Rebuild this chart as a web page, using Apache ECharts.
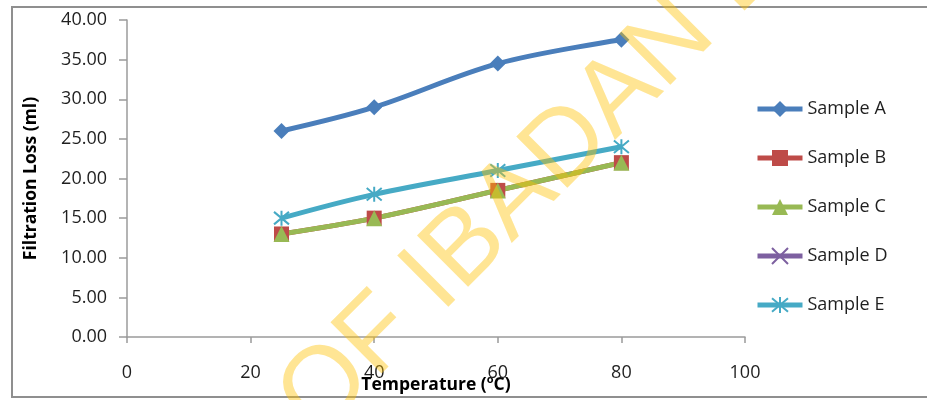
<!DOCTYPE html>
<html>
<head>
<meta charset="utf-8">
<script src="https://cdn.jsdelivr.net/npm/echarts@6/dist/echarts.min.js"></script>
<style>
html,body{margin:0;padding:0;background:#fff;}
#chart{width:927px;height:400px;}
</style>
</head>
<body>
<div id="chart"></div>
<script>
// ---- data ----
const temperatures = [25, 40, 60, 80];
const sampleNames = ['Sample A', 'Sample B', 'Sample C', 'Sample D', 'Sample E'];
const sampleA = [26.0, 29.0, 34.5, 37.5];
const sampleB = [13.0, 15.0, 18.5, 22.0];
const sampleC = [13.0, 15.0, 18.5, 22.0];
const sampleD = [];
const sampleE = [15.0, 18.0, 21.0, 24.0];
const xTicks = [0, 20, 40, 60, 80, 100];
const yTicks = [0, 5, 10, 15, 20, 25, 30, 35, 40];
const xTitle = 'Temperature (';
const yTitle = 'Filtration Loss (ml)';
const watermarkBefore = 'UNIVERSITY OF ';
const watermarkAfter = 'IBADAN LIBRARY';

// ---- styles ----
const colors = ['#4A7EBB', '#BE4B48', '#98B954', '#7D60A0', '#46AAC5'];
const symbols = [
  'diamond',
  'rect',
  'triangle',
  'path://M0,0L10,10M10,0L0,10',
  'path://M0,0L10,10M10,0L0,10M5,-1L5,11'
];
const symbolSizes = [16, 15, 16, 14, 15];
const FONT = '"Open Sans", "Noto Sans", sans-serif';
const TXT = '#1f1f1f';

function pairs(vals) {
  return vals.map((v, i) => [temperatures[i], v]);
}
const allData = [sampleA, sampleB, sampleC, sampleD, sampleE];

const series = sampleNames.map((name, i) => {
  const strokeOnly = i >= 3;
  return {
    name: name,
    type: 'line',
    data: pairs(allData[i]),
    smooth: 0.35,
    symbol: symbols[i],
    symbolSize: symbolSizes[i],
    showAllSymbol: true,
    lineStyle: { color: colors[i], width: 5 },
    itemStyle: strokeOnly
      ? { color: colors[i], borderColor: colors[i], borderWidth: 2 }
      : { color: colors[i], borderWidth: 0 },
    emphasis: { disabled: true },
    animation: false
  };
});

const chart = echarts.init(document.getElementById('chart'), null, { renderer: 'canvas' });

const rot = 45 * Math.PI / 180;
const wmX = 421, wmY = 293;
const wmStyle = {
  fill: 'rgba(255,192,0,0.42)',
  font: 'normal 105px "Liberation Sans", Arial, sans-serif',
  verticalAlign: 'middle'
};

chart.setOption({
  animation: false,
  grid: { left: 127, right: 182, top: 20, bottom: 63, containLabel: false, outerBoundsMode: 'none' },
  xAxis: {
    type: 'value',
    min: xTicks[0],
    max: xTicks[xTicks.length - 1],
    interval: 20,
    name: '{n|' + xTitle + '}{s|o}{n|C)}',
    nameLocation: 'middle',
    nameGap: 37,
    nameMoveOverlap: false,
    nameTextStyle: {
      rich: {
        n: { fontFamily: FONT, fontWeight: 'bold', fontSize: 17.5, color: '#000', verticalAlign: 'bottom', lineHeight: 20 },
        s: { fontFamily: FONT, fontWeight: 'bold', fontSize: 11, color: '#000', verticalAlign: 'top', lineHeight: 20, padding: [0, 0, 8, 0] }
      }
    },
    axisLine: { show: true, lineStyle: { color: '#9b9b9b', width: 1.5 } },
    axisTick: { show: true, length: 6, lineStyle: { color: '#9b9b9b', width: 1.5 } },
    axisLabel: { margin: 27, fontFamily: FONT, fontSize: 18, color: TXT },
    splitLine: { show: false }
  },
  yAxis: {
    type: 'value',
    min: yTicks[0],
    max: yTicks[yTicks.length - 1],
    interval: 5,
    name: yTitle,
    nameLocation: 'middle',
    nameGap: 87,
    nameMoveOverlap: false,
    nameTextStyle: { fontFamily: FONT, fontWeight: 'bold', fontSize: 17.5, color: '#000' },
    axisLine: { show: true, lineStyle: { color: '#9b9b9b', width: 1.5 } },
    axisTick: { show: true, length: 8, lineStyle: { color: '#9b9b9b', width: 1.5 } },
    axisLabel: {
      margin: 20, fontFamily: FONT, fontSize: 18, color: TXT,
      formatter: v => v.toFixed(2)
    },
    splitLine: { show: false }
  },
  legend: {
    orient: 'vertical',
    left: 750,
    top: 94,
    itemWidth: 45,
    itemHeight: 20,
    itemGap: 29,
    data: sampleNames,
    lineStyle: { width: 5 },
    textStyle: { fontFamily: FONT, fontSize: 18, color: TXT, lineHeight: 20 },
    selectedMode: false
  },
  graphic: [
    {
      type: 'rect', z: 0, silent: true,
      shape: { x: 12, y: 7, width: 935, height: 390 },
      style: { fill: 'none', stroke: '#8f8f8f', lineWidth: 2 }
    },
    {
      type: 'text', z: 100, silent: true,
      x: wmX, y: wmY, rotation: rot,
      style: Object.assign({ text: watermarkAfter, align: 'left' }, wmStyle)
    },
    {
      type: 'text', z: 100, silent: true,
      x: wmX, y: wmY, rotation: rot,
      style: Object.assign({ text: watermarkBefore, align: 'right' }, wmStyle)
    }
  ],
  series: series
});
</script>
</body>
</html>
